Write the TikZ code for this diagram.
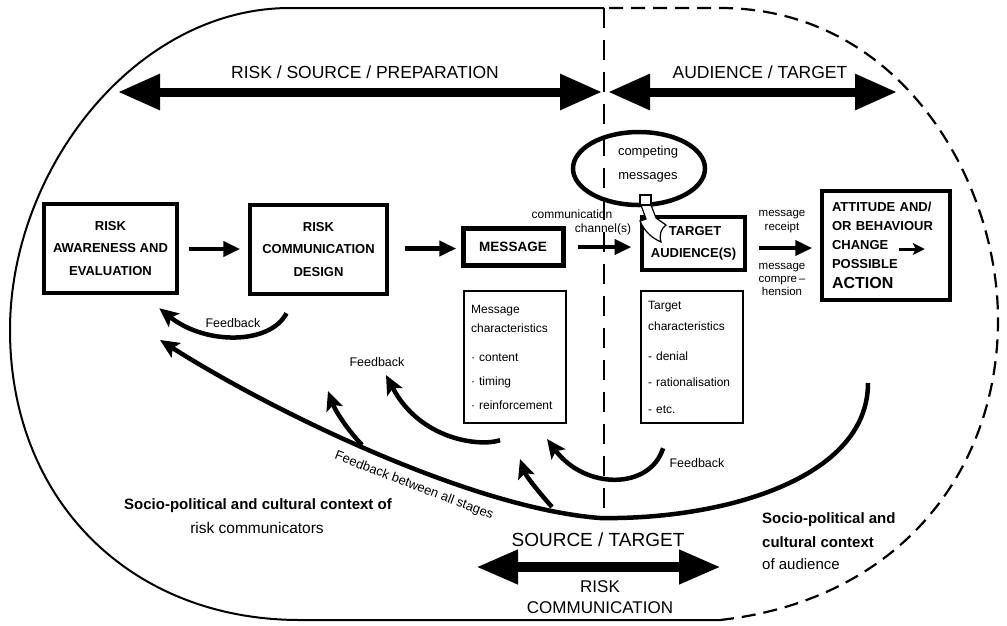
\documentclass[tikz,border=0pt]{standalone}
\usepackage{fontspec}
\setmainfont{Liberation Sans}
\usetikzlibrary{arrows.meta,shapes.geometric,calc}
\begin{document}
\begin{tikzpicture}[x=1pt,y=-1pt,
  bigbox/.style={draw, line width=4.5pt, font=\fontsize{13}{22.5}\selectfont\bfseries, align=center, inner sep=0pt},
  charbox/.style={draw, line width=2.2pt, align=left, inner xsep=7pt, inner ysep=0pt, text width=88pt, minimum height=132pt, anchor=north west},
  flow/.style={line width=4.5pt, -{Triangle[length=17pt,width=15pt]}},
  fb/.style={line width=4.5pt, -{Stealth[length=19pt,width=17pt,inset=4pt]}},
  band/.style={line width=9pt, {Triangle[length=42pt,width=34pt]}-{Triangle[length=42pt,width=34pt]}},
  small/.style={font=\fontsize{12}{14}\selectfont, inner sep=0pt},
  fbl/.style={font=\fontsize{12.5}{14}\selectfont, inner sep=0pt},
  head/.style={font=\fontsize{17.5}{20}\selectfont, inner sep=0pt},
  ctxb/.style={font=\fontsize{15}{18}\selectfont\bfseries, inner sep=0pt},
  ctxr/.style={font=\fontsize{15.5}{18}\selectfont, inner sep=0pt},
  outer/.style={line width=2pt},
  outerdash/.style={line width=2.2pt, dash pattern=on 14pt off 8pt},
  vdash/.style={line width=2pt, dash pattern=on 20pt off 12pt}
]
\useasboundingbox (0,0) rectangle (1007,625);
\fill[white] (0,0) rectangle (1007,625);

% outer context shape
\draw[outer] (604,8) -- (290,8) .. controls (135,8) and (10,170) .. (10,330)
  .. controls (10,500) and (130,620) .. (300,620) -- (720,620);
\draw[outerdash] (720,620) .. controls (900,600) and (998,470) .. (998,320)
  .. controls (998,180) and (900,8) .. (720,8) -- (604,8);

% divider
\draw[vdash] (604,8) -- (604,518);

% top bands
\coordinate (tl) at (118,92);
\coordinate (tm1) at (602,92);
\coordinate (tm2) at (608,92);
\coordinate (tr) at (897,92);
\draw[band] (tl) -- (tm1);
\draw[band] (tm2) -- (tr);
\node[head] (lblsrc) at (365,72) {RISK / SOURCE / PREPARATION};
\node[head] (lblaud) at (760,72) {AUDIENCE / TARGET};

% main boxes
\node[bigbox, minimum width=133pt, minimum height=89pt] (b1) at (110.5,248.5) {RISK\\AWARENESS AND\\EVALUATION};
\node[bigbox, minimum width=137pt, minimum height=89pt] (b2) at (318.5,249.5) {RISK\\COMMUNICATION\\DESIGN};
\node[bigbox, line width=5pt, minimum width=100pt, minimum height=37pt, font=\fontsize{13.5}{16}\selectfont\bfseries] (msg) at (513,246.5) {MESSAGE};
\node[bigbox, minimum width=103pt, minimum height=53pt, font=\fontsize{13}{22}\selectfont\bfseries] (tgt) at (693.5,243.5) {\hspace*{3pt}TARGET\\AUDIENCE(S)};
\node[bigbox, minimum width=128pt, minimum height=109pt, align=left, text width=108pt, inner xsep=10pt, font=\fontsize{13}{19}\selectfont\bfseries] (att) at (886,245.5)
  {ATTITUDE AND/\\OR BEHAVIOUR\\CHANGE\\POSSIBLE\\[1pt]{\fontsize{16}{19}\selectfont ACTION}};
\coordinate (chg1) at ($(att.west)+(79,3.5)$);
\coordinate (chg2) at ($(att.west)+(105,3.5)$);
\draw[line width=3pt, -{Stealth[length=12pt,width=12pt,inset=3pt]}] (chg1) -- (chg2);

% characteristics boxes
\node[charbox, font=\fontsize{12}{19}\selectfont] (mchar) at (463,290)
  {Message\\characteristics\\[10pt]· content\\[5pt]· timing\\[5pt]· reinforcement};
\node[charbox, font=\fontsize{12}{21}\selectfont] (tchar) at (640,290)
  {Target\\characteristics\\[9pt]- denial\\[5pt]- rationalisation\\[6pt]- etc.};

% flow arrows
\draw[flow] ($(b1.east)+(10,0.5)$) -- ($(b1.east)+(61,0.5)$);
\draw[flow] ($(b2.east)+(16,-1)$) -- ($(b2.east)+(67,-1)$);
\draw[flow] ($(msg.east)+(12,0.5)$) -- ($(msg.east)+(66,0.5)$);
\draw[flow] ($(tgt.east)+(12,4.5)$) -- ($(tgt.east)+(65,4.5)$);

\node[small] (comm) at (572,214) {communication};
\node[small] (chan) at (603,229) {channel(s)};
\node[small, font=\fontsize{11.5}{14}\selectfont, align=center] (rec) at (782,222) {message\\receipt};
\node[small, font=\fontsize{11.5}{13}\selectfont, align=center] (comp) at (782,279) {message\\compre\,–\\hension};

% competing messages
\node[draw, ellipse, line width=4.5pt, minimum width=132pt, minimum height=73pt, inner sep=0pt] (comp ell) at (639,168.5) {};
\node[font=\fontsize{13}{24}\selectfont, align=center, inner sep=0pt] (comptxt) at (648,164) {competing\\messages};
\draw[line width=1.2pt, fill=white] (641,205) -- (646,219) -- (640,221)
  .. controls (645,232) and (652,238) .. (661,242)
  .. controls (659,234) and (661,229) .. (666,225) -- (656,218) -- (651,205) -- cycle;
\draw[line width=1.2pt, fill=white] (640,195) rectangle (651,205);

% feedback arrows
\draw[fb] ($(b2.south)+(-32,17)$) .. controls (270,345) and (205,345) .. ($(b1.south east)+(-20,13)$);
\node[fbl] (fb1) at (233,323) {Feedback};

\coordinate (bigstart) at (868,383);
\coordinate (bigbottom) at (600,518);
\draw[fb] (bigstart) .. controls (868,480) and (720,520) .. (bigbottom)
  .. controls (470,508) and (270,410) .. (160,340);
\node[font=\fontsize{13}{15}\selectfont, inner sep=0pt, rotate=-21] (fball) at (414,486) {Feedback between all stages};

\draw[fb] (552,507) .. controls (537,490) and (526,476) .. (520,459);
\draw[fb] (362,445) .. controls (346,428) and (335,410) .. (328,391);

\draw[fb] ($(mchar.south)+(-15,16)$) .. controls (480,447) and (420,440) .. (386,375);
\node[fbl] (fb2) at (377,362) {Feedback};

\draw[fb] ($(tchar.south)+(-29,24)$) .. controls (650,490) and (585,490) .. (547,439);
\node[fbl] (fb3) at (697,463) {Feedback};

% context texts
\node[ctxb] (ctxl1) at (258,506) {Socio-political and cultural context of};
\node[ctxr] (ctxl2) at (257,528) {risk communicators};
\node[ctxb, anchor=west] (ctxr1) at (762,520) {Socio-political and};
\node[ctxb, anchor=west] (ctxr2) at (762,542) {cultural context};
\node[ctxr, font=\fontsize{15}{18}\selectfont, anchor=west] (ctxr3) at (762,564) {of audience};

% bottom band
\node[font=\fontsize{19}{22}\selectfont, inner sep=0pt] (srctgt) at (598,540) {SOURCE / TARGET};
\coordinate (bl) at (476,567);
\coordinate (br) at (721,567);
\draw[line width=10pt, {Triangle[length=42pt,width=32pt]}-{Triangle[length=42pt,width=32pt]}] (bl) -- (br);
\node[font=\fontsize{17}{21}\selectfont, inner sep=0pt, align=center] (riskcomm) at (600,597) {RISK\\COMMUNICATION};
\end{tikzpicture}
\end{document}
